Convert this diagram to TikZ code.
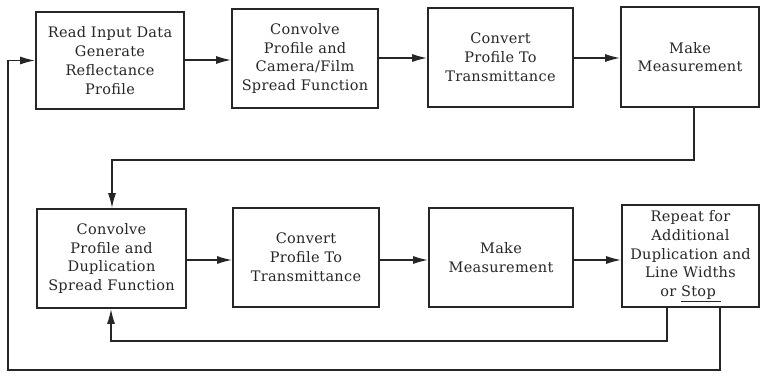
\documentclass[tikz,border=0pt]{standalone}
\usepackage{fontspec}
\setmainfont{DejaVu Serif}[LetterSpace=2]
\usetikzlibrary{arrows.meta}
\definecolor{ink}{HTML}{262626}
\begin{document}
\begin{tikzpicture}[x=1pt,y=-1pt,
  box/.style={draw=ink, text=ink, line width=1.6pt, align=center, inner sep=0pt,
    font=\fontsize{14.5}{18.8}\selectfont},
  arr/.style={draw=ink, line width=1.6pt, -{Latex[length=15pt,width=8pt]}}]
\useasboundingbox (0,0) rectangle (762,372);
% top row
\node[box, minimum width=148pt, minimum height=97pt] (b1) at (110,60.5)
  {Read Input Data\\Generate\\Reflectance\\Profile};
\node[box, minimum width=146pt, minimum height=99pt] (b2) at (305,58.5)
  {Convolve\\Profile and\\Camera/Film\\Spread Function};
\node[box, minimum width=145pt, minimum height=99pt] (b3) at (500.5,57.5)
  {Convert\\Profile To\\Transmittance};
\node[box, minimum width=138pt, minimum height=100pt] (b4) at (690,57)
  {Make\\Measurement};
% bottom row
\node[box, minimum width=149pt, minimum height=99pt] (b5) at (111.5,258.5)
  {Convolve\\Profile and\\Duplication\\Spread Function};
\node[box, minimum width=146pt, minimum height=99pt] (b6) at (306,257.5)
  {Convert\\Profile To\\Transmittance};
\node[box, minimum width=144pt, minimum height=99pt] (b7) at (501,257.5)
  {Make\\Measurement};
\node[box, minimum width=137pt, minimum height=102pt] (b8) at (690.5,256)
  {Repeat for\\Additional\\Duplication and\\Line Widths\\or \underline{Stop\ }};
% connectors
\draw[arr] (b1.east |- 0,60) -- (b2.west |- 0,60);
\draw[arr] (b2.east |- 0,58) -- (b3.west |- 0,58);
\draw[arr] (b3.east |- 0,58) -- (b4.west |- 0,58);
\draw[arr] (b5.east |- 0,260) -- (b6.west |- 0,260);
\draw[arr] (b6.east |- 0,260) -- (b7.west |- 0,260);
\draw[arr] (b7.east |- 0,260) -- (b8.west |- 0,260);
\coordinate (m1) at (112,160);
\coordinate (m2) at (111,341);
\coordinate (m3) at (8,370);
\draw[arr] ([xshift=4pt]b4.south) |- (m1) -- (b5.north -| m1);
\draw[arr] ([xshift=-23.5pt]b8.south) |- (m2) -- (b5.south -| m2);
\draw[arr] ([xshift=29.5pt]b8.south) |- (m3) |- (b1.west);
\end{tikzpicture}
\end{document}
